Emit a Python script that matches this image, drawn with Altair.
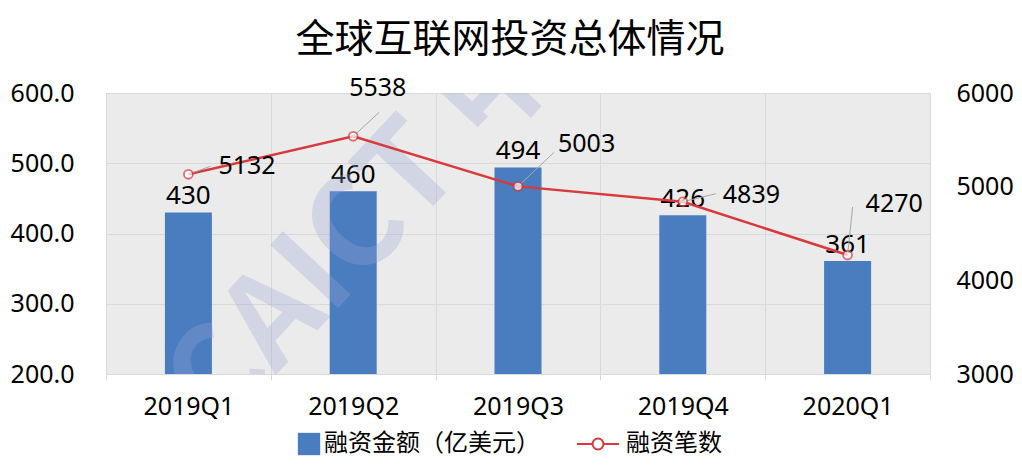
import altair as alt
import pandas as pd

quarters = ["2019Q1", "2019Q2", "2019Q3", "2019Q4", "2020Q1"]
amounts = [430, 460, 494, 426, 361]
counts = [5132, 5538, 5003, 4839, 4270]

# label offsets (pixels) for the line value labels and their leader lines
label_dx = [30, -4, 40, 40, 18]
label_dy = [-8, -48, -42, -7, -51]
lead_dx = [22, 26, 36, 33, 5]
lead_dy = [-8, -24, -34, -8, -48]

df = pd.DataFrame({"q": quarters, "amt": amounts, "cnt": counts})

BLUE = "#4A7DBF"
RED = "#D9393C"
GRID = "#d9d9d9"
FONT = "Noto Sans CJK SC"
NUM = "Noto Sans"
S1 = "融资金额（亿美元）"
S2 = "融资笔数"

x = alt.X(
    "q:N",
    sort=quarters,
    scale=alt.Scale(paddingInner=0, paddingOuter=0),
    axis=alt.Axis(
        title=None, labelAngle=0, grid=True, tickBand="extent",
        gridColor=GRID, tickColor=GRID, tickSize=6, domainColor=GRID,
        labelFontSize=25, labelPadding=14, labelColor="black", labelFont=NUM,
    ),
)

yL = alt.Y(
    "amt:Q",
    scale=alt.Scale(domain=[200, 600], zero=False, nice=False),
    axis=alt.Axis(
        title=None, values=[200, 300, 400, 500, 600], format=".1f", grid=True,
        gridColor=GRID, domain=False, ticks=False, labelFontSize=25,
        labelPadding=32, labelColor="black", labelFont=NUM, orient="left",
    ),
)

yR = alt.Y(
    "cnt:Q",
    scale=alt.Scale(domain=[3000, 6000], zero=False, nice=False),
    axis=alt.Axis(
        title=None, values=[3000, 4000, 5000, 6000], format="d", grid=False,
        domain=False, ticks=False, labelFontSize=25, labelPadding=26,
        labelColor="black", labelFont=NUM, orient="right",
    ),
)

base = alt.Chart(df)

bars = base.transform_calculate(s1=f"'{S1}'").mark_bar(size=47).encode(
    x=x,
    y=yL,
    y2=alt.datum(200),
    color=alt.Color(
        "s1:N",
        scale=alt.Scale(domain=[S1], range=[BLUE]),
        legend=alt.Legend(
            title=None, orient="none", legendX=191, legendY=339,
            symbolType="square", symbolSize=500, labelFontSize=24,
            labelFont=FONT, labelColor="black", symbolStrokeWidth=0,
            labelOffset=3, labelLimit=600,
        ),
    ),
)

bar_text = base.mark_text(
    baseline="bottom", dy=-3, fontSize=26, font=NUM, color="black"
).encode(x=x, y=yL, text=alt.Text("amt:Q"))

watermark = base.transform_filter(alt.datum.q == quarters[0]).mark_text(
    text="CAICT 中国信通院", font=FONT, fontSize=125, fontWeight="bold",
    angle=313, align="left", baseline="middle", color="#9aa3d4", opacity=0.3,
    clip=True,
).encode(x=alt.value(86), y=alt.value(316))

left = alt.layer(bars, bar_text)

line_sym = "M-1,0L-0.26,0M0.26,0L1,0M0.26,0A0.26,0.26,0,1,1,-0.26,0A0.26,0.26,0,1,1,0.26,0Z"

line = base.transform_calculate(s2=f"'{S2}'").mark_line(strokeWidth=2.5).encode(
    x=x,
    y=yR,
    stroke=alt.Stroke(
        "s2:N",
        scale=alt.Scale(domain=[S2], range=[RED]),
        legend=alt.Legend(
            title=None, orient="none", legendX=470, legendY=329,
            symbolType=line_sym, symbolSize=1760, symbolStrokeWidth=2,
            symbolFillColor="white", labelFontSize=24, labelFont=FONT,
            labelColor="black", labelOffset=6, labelLimit=600,
        ),
    ),
)

points = base.mark_point(
    shape="circle", size=80, filled=True, fill="white", stroke=RED, strokeWidth=1.8
).encode(x=x, y=yR)

layers = [line]
for i, q in enumerate(quarters):
    sub = base.transform_filter(alt.datum.q == q)
    layers.append(
        sub.mark_rule(color="#a6a6a6", strokeWidth=1, x2Offset=lead_dx[i], y2Offset=lead_dy[i]).encode(
            x=x, x2=alt.X2("q:N"), y=yR, y2=alt.Y2("cnt:Q")
        )
    )
layers.append(points)
for i, q in enumerate(quarters):
    sub = base.transform_filter(alt.datum.q == q)
    layers.append(
        sub.mark_text(
            align="left", baseline="middle", dx=label_dx[i], dy=label_dy[i],
            fontSize=25, font=NUM, color="black",
        ).encode(x=x, y=yR, text=alt.Text("cnt:Q"))
    )

right = alt.layer(*layers)

chart = (
    alt.layer(left, watermark, right)
    .resolve_scale(y="independent", color="independent", stroke="independent")
    .properties(
        width=824,
        height=281,
        autosize=alt.AutoSizeParams(type="none"),
        padding={"left": 98, "top": 85, "right": 84, "bottom": 84},
        view=alt.ViewBackground(fill="#ebebeb", stroke=None),
        title=alt.TitleParams(
            "全球互联网投资总体情况", fontSize=39, font=FONT, fontWeight="normal",
            color="black", anchor="middle", offset=16, dx=-8,
        ),
    )
    .configure_view(stroke=None, fill="#ebebeb")
    .configure(background="white")
)

chart.save("out.html", embed_options={"renderer": "svg", "actions": False})
